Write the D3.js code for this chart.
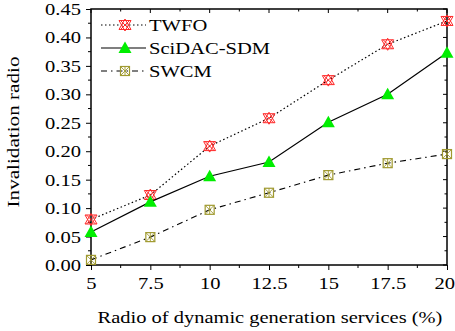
<!DOCTYPE html>
<html>
<head>
  <meta charset="UTF-8">
  <script src="https://d3js.org/d3.v7.min.js"></script>
  <style>
    body { margin: 0; background: #fff; }
    text { font-family: "Liberation Serif", "Times New Roman", serif; }
  </style>
</head>
<body>
  <div id="chart"></div>
  <script>
    // data
    const ratios = [5, 7.5, 10, 12.5, 15, 17.5, 20];
    const twfo = [0.080, 0.123, 0.209, 0.258, 0.325, 0.388, 0.429];
    const scidac = [0.058, 0.111, 0.156, 0.181, 0.251, 0.300, 0.373];
    const swcm = [0.009, 0.049, 0.097, 0.127, 0.158, 0.179, 0.195];
    const xTicks = [5, 7.5, 10, 12.5, 15, 17.5, 20];
    const yTicks = [0, 0.05, 0.10, 0.15, 0.20, 0.25, 0.30, 0.35, 0.40, 0.45];

    const margin = {top: 9, right: 8, bottom: 66, left: 91},
          width = 455 - margin.left - margin.right,
          height = 331 - margin.top - margin.bottom;

    const svg = d3.select("#chart").append("svg")
      .attr("width", 455).attr("height", 331)
      .append("g")
      .attr("transform", `translate(${margin.left},${margin.top})`);

    const x = d3.scaleLinear().domain([5, 20]).range([0, width]);
    const y = d3.scaleLinear().domain([0, 0.45]).range([height, 0]);

    const minorX = d3.range(5, 20, 1.25).filter(v => !xTicks.includes(v));
    const minorY = d3.range(0.025, 0.45, 0.05);

    // frame
    svg.append("rect").attr("width", width).attr("height", height)
      .attr("fill", "none").attr("stroke", "#000").attr("stroke-width", 1.5);

    // bottom axis
    const gx = svg.append("g").attr("transform", `translate(0,${height})`)
      .call(d3.axisBottom(x).tickValues(xTicks).tickSize(5).tickFormat(d3.format("")));
    gx.selectAll("g.minor").data(minorX).enter().append("line")
      .attr("x1", d => x(d)).attr("x2", d => x(d)).attr("y1", 0).attr("y2", 3).attr("stroke", "#000");
    // left axis
    const gy = svg.append("g")
      .call(d3.axisLeft(y).tickValues(yTicks).tickSize(5).tickFormat(d3.format(".2f")));
    gy.selectAll("g.minor").data(minorY).enter().append("line")
      .attr("y1", d => y(d)).attr("y2", d => y(d)).attr("x1", 0).attr("x2", -3).attr("stroke", "#000");
    [gx, gy].forEach(g => {
      g.select(".domain").remove();
      g.selectAll("text").style("font-size", "17px").attr("fill", "#000")
        .style("font-family", "Liberation Serif, serif");
    });
    gx.selectAll("text").attr("dy", "0.95em");
    // last label sits against the right edge of the page
    gx.selectAll("text").filter(d => d === 20).attr("text-anchor", "end").attr("x", 7.5);
    gy.selectAll("text").attr("x", -10);

    // top and right mirror ticks (inward)
    svg.selectAll(".tt").data(xTicks.concat(minorX)).enter().append("line")
      .attr("x1", d => x(d)).attr("x2", d => x(d)).attr("y1", 0)
      .attr("y2", d => xTicks.includes(d) ? 4 : 2.5).attr("stroke", "#000");
    svg.selectAll(".rt").data(yTicks.concat(minorY)).enter().append("line")
      .attr("y1", d => y(d)).attr("y2", d => y(d)).attr("x1", width)
      .attr("x2", d => yTicks.includes(d) ? width - 4 : width - 2.5).attr("stroke", "#000");

    // axis labels
    svg.append("text").attr("class", "xlab").attr("x", width / 2 + 1).attr("y", height + 58)
      .attr("text-anchor", "middle").style("font-size", "17.5px")
      .text("Radio of dynamic generation services (%)");
    svg.append("text").attr("transform", `translate(-72,${height / 2 - 5}) rotate(-90)`)
      .attr("text-anchor", "middle").style("font-size", "17.5px")
      .text("Invalidation radio");

    const series = [
      {name: "TWFO", values: twfo, dash: "1.5,2.5", width: 1.2, marker: "star"},
      {name: "SciDAC-SDM", values: scidac, dash: null, width: 1.2, marker: "tri"},
      {name: "SWCM", values: swcm, dash: "6,4,1.5,4", width: 1.1, marker: "box"}
    ];

    function drawMarker(g, type) {
      if (type === "star") {
        g.append("path").attr("d", "M-6,-4.5 L6,-4.5 L0,6 Z M-6,4.5 L6,4.5 L0,-6 Z")
          .attr("fill", "none").attr("stroke", "#ff2828").attr("stroke-width", 1);
        g.append("path").attr("d", "M-4.5,-4.5 L4.5,4.5 M-4.5,4.5 L4.5,-4.5")
          .attr("stroke", "#ff2828").attr("stroke-width", 1);
      } else if (type === "tri") {
        g.append("path").attr("d", "M0,-6.5 L6.5,5 L-6.5,5 Z").attr("fill", "#00ee00");
      } else {
        g.append("rect").attr("x", -4.5).attr("y", -4.5).attr("width", 9).attr("height", 9)
          .attr("fill", "none").attr("stroke", "#a09a30").attr("stroke-width", 1.2);
        g.append("path").attr("d", "M-4.5,-4.5 L4.5,4.5 M-4.5,4.5 L4.5,-4.5 M0,-4.5 L0,4.5")
          .attr("stroke", "#a09a30").attr("stroke-width", 0.9);
      }
    }

    const line = d3.line().x((d, i) => x(ratios[i])).y(d => y(d));
    series.forEach(s => {
      svg.append("path").datum(s.values).attr("d", line)
        .attr("fill", "none").attr("stroke", "#000").attr("stroke-width", s.width)
        .attr("stroke-dasharray", s.dash);
      s.values.forEach((v, i) => {
        drawMarker(svg.append("g").attr("transform", `translate(${x(ratios[i])},${y(v)})`), s.marker);
      });
    });

    // legend
    const legend = svg.append("g").attr("transform", "translate(10,16)");
    series.forEach((s, i) => {
      const row = legend.append("g").attr("transform", `translate(0,${i * 23})`);
      row.append("line").attr("x1", 0).attr("x2", 45).attr("y1", 0).attr("y2", 0)
        .attr("stroke", "#000").attr("stroke-width", s.width).attr("stroke-dasharray", s.dash);
      drawMarker(row.append("g").attr("transform", "translate(24,0)"), s.marker);
      row.append("text").attr("x", 48).attr("y", 0).attr("dy", "0.35em")
        .style("font-size", "17px").text(s.name);
    });

    // the original figure's type is horizontally stretched; widen every label about its anchor
    svg.selectAll("text").each(function () {
      const el = d3.select(this);
      const a = +(el.attr("x") || 0);
      const k = this.classList.contains("xlab") ? 1.17 : 1.21;
      const t = el.attr("transform") || "";
      el.attr("transform", `${t} translate(${a},0) scale(${k},1) translate(${-a},0)`);
    });
  </script>
</body>
</html>
